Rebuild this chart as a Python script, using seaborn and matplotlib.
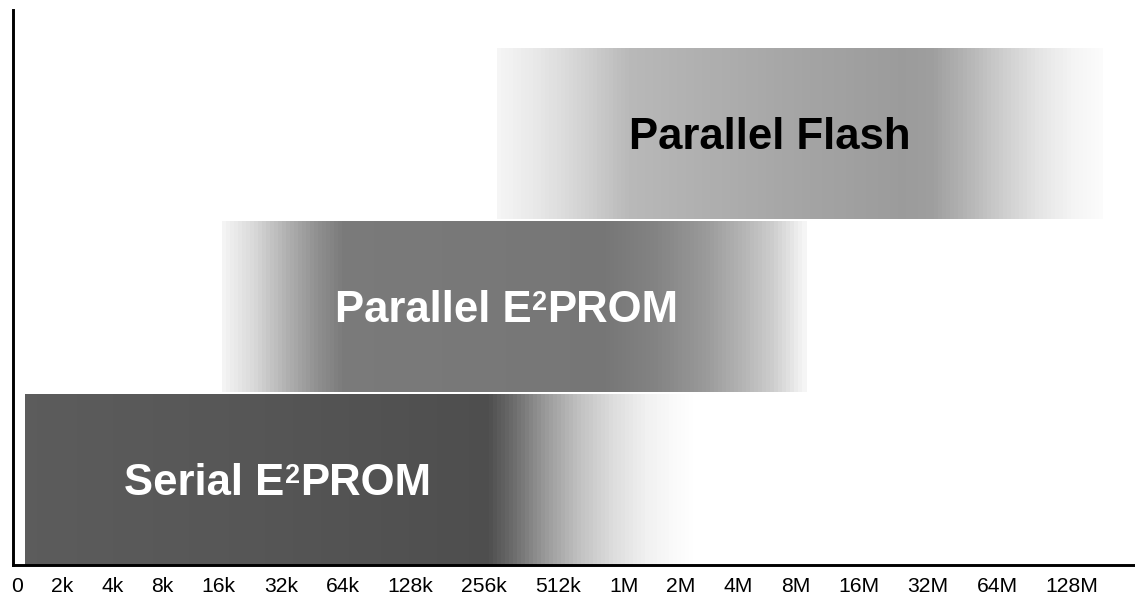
import numpy as np
import pandas as pd
import matplotlib
matplotlib.use("Agg")
import matplotlib.pyplot as plt
from matplotlib.font_manager import FontProperties
import seaborn as sns

# Memory density axis
SIZE_LABELS = ["0", "2k", "4k", "8k", "16k", "32k", "64k", "128k", "256k", "512k",
               "1M", "2M", "4M", "8M", "16M", "32M", "64M", "128M"]

# Technologies, top row first
TECHNOLOGIES = ["Parallel Flash", "Parallel E²PROM", "Serial E²PROM"]
# Span of each technology along the density axis, in tick steps
SPAN_START = [8.17, 4.05, 0.17]
SPAN_END = [17.41, 13.17, 11.28]

# Grey ramps along each bar: (fraction of bar length, grey level 0-255)
SHADING = [
    ([0, .076, .148, .22, .343, .507, .672, .72, .77, .836, .90, .95, 1],
     [245, 229, 208, 184, 175, 164, 155, 158, 178, 206, 230, 243, 251]),
    ([0, .056, .113, .169, .21, .654, .739, .824, .892, .944, 1],
     [245, 215, 175, 140, 122, 118, 130, 152, 180, 205, 247]),
    ([0, .34, .689, .725, .775, .824, .875, .925, .974, 1],
     [92, 86, 78, 106, 154, 192, 220, 240, 251, 255]),
]
LABEL_AT = [12.54, 8.30, 4.95]
LABEL_COLOR = ["black", "white", "white"]

W_PX, H_PX, DPI = 1135, 598, 100
TICK_PT = 15.2
NAME_PT = 31.5
SUP_SCALE = 0.62       # size of the raised "2" relative to the name
GAP_PX = 28.0          # space between consecutive density labels
FIRST_CENTER_PX = 4.5  # centre of the first label from the axis line
FONT = "Liberation Sans"

sns.set_theme(style="white")
plt.rcParams["font.family"] = [FONT, "DejaVu Sans"]

fig = plt.figure(figsize=(W_PX / DPI, H_PX / DPI), dpi=DPI)
ax_left, ax_bottom, ax_top = 12.5, 33.0, 10.0
ax = fig.add_axes([ax_left / W_PX, ax_bottom / H_PX,
                   1 - ax_left / W_PX, (H_PX - ax_bottom - ax_top) / H_PX])
axes_w = W_PX - ax_left

# Density labels are set as a spaced row of text: tick centres follow label widths
renderer = fig.canvas.get_renderer()
tick_prop = FontProperties(family=FONT, size=TICK_PT)
widths = np.array([renderer.get_text_width_height_descent(s, tick_prop, ismath=False)[0]
                   for s in SIZE_LABELS])
lefts = np.concatenate([[0.0], np.cumsum(widths[:-1] + GAP_PX)])
centers = lefts + widths / 2 - widths[0] / 2 + FIRST_CENTER_PX
steps = np.arange(len(centers))


def at(idx):
    idx = np.asarray(idx, float)
    x = np.interp(idx, steps, centers)
    x = np.where(idx > steps[-1], centers[-1] + (idx - steps[-1]) * (centers[-1] - centers[-2]), x)
    x = np.where(idx < 0, centers[0] + idx * (centers[1] - centers[0]), x)
    return x


def name_label(x, y, text, color):
    """Bold name centred at (x, y); a '²' is set as a raised bold small 2."""
    big = FontProperties(family=FONT, size=NAME_PT, weight="bold")
    small = FontProperties(family=FONT, size=NAME_PT * SUP_SCALE, weight="bold")
    pieces = []
    for i, chunk in enumerate(text.split("²")):
        if i > 0:
            pieces.append(("2", small, True))
        if chunk:
            pieces.append((chunk, big, False))
    pt_per_px = 72.0 / DPI
    w = [renderer.get_text_width_height_descent(s, p, ismath=False)[0] * pt_per_px
         for s, p, _ in pieces]
    cap = 0.716 * NAME_PT
    base = -cap / 2                      # baseline so caps are centred on y
    raise_by = cap * (1 - SUP_SCALE)     # tops of the small 2 and caps line up
    cursor = -sum(w) / 2
    for (s, p, sup), wi in zip(pieces, w):
        ax.annotate(s, (x, y), xytext=(cursor, base + (raise_by if sup else 0)),
                    textcoords="offset points", ha="left", va="baseline",
                    fontproperties=p, color=color, zorder=3, annotation_clip=False)
        cursor += wi


x0 = at(SPAN_START)
x1 = at(SPAN_END)
df = pd.DataFrame({"technology": TECHNOLOGIES, "start": x0, "length": x1 - x0})

sns.barplot(data=df, x="length", y="technology", order=TECHNOLOGIES, orient="h",
            width=0.99, left=df["start"].to_numpy(), color="white",
            errorbar=None, linewidth=0, ax=ax)

# Fill each bar with its grey ramp
for bar in list(ax.patches):
    yc = bar.get_y() + bar.get_height() / 2
    row = int(round(yc))
    bx0, bw = bar.get_x(), bar.get_width()
    n = max(int(bw / 4), 2)
    xe = np.linspace(bx0, bx0 + bw, n + 1)
    frac = (0.5 * (xe[:-1] + xe[1:]) - bx0) / bw
    stops, greys = SHADING[row]
    g = np.interp(frac, stops, greys) / 255.0
    ye = [bar.get_y(), bar.get_y() + bar.get_height()]
    mesh = ax.pcolormesh(xe, ye, g[None, :], cmap="gray", vmin=0, vmax=1,
                         shading="flat", zorder=bar.get_zorder() + 0.1)
    mesh.set_clip_path(bar)
    name_label(float(at(LABEL_AT[row])), yc, TECHNOLOGIES[row], LABEL_COLOR[row])

ax.set_xlim(0, axes_w)
ax.set_ylim(2.494, -0.714)
ax.set_xticks(centers)
ax.set_xticklabels(SIZE_LABELS)
ax.tick_params(axis="x", length=0, pad=9.0, labelsize=TICK_PT, labelcolor="black")
ax.set_yticks([])
ax.set_xlabel("")
ax.set_ylabel("")
for s in ["top", "right"]:
    ax.spines[s].set_visible(False)
for s in ["left", "bottom"]:
    ax.spines[s].set_color("black")
    ax.spines[s].set_linewidth(2.1)

fig.savefig("out.png", dpi=DPI)
